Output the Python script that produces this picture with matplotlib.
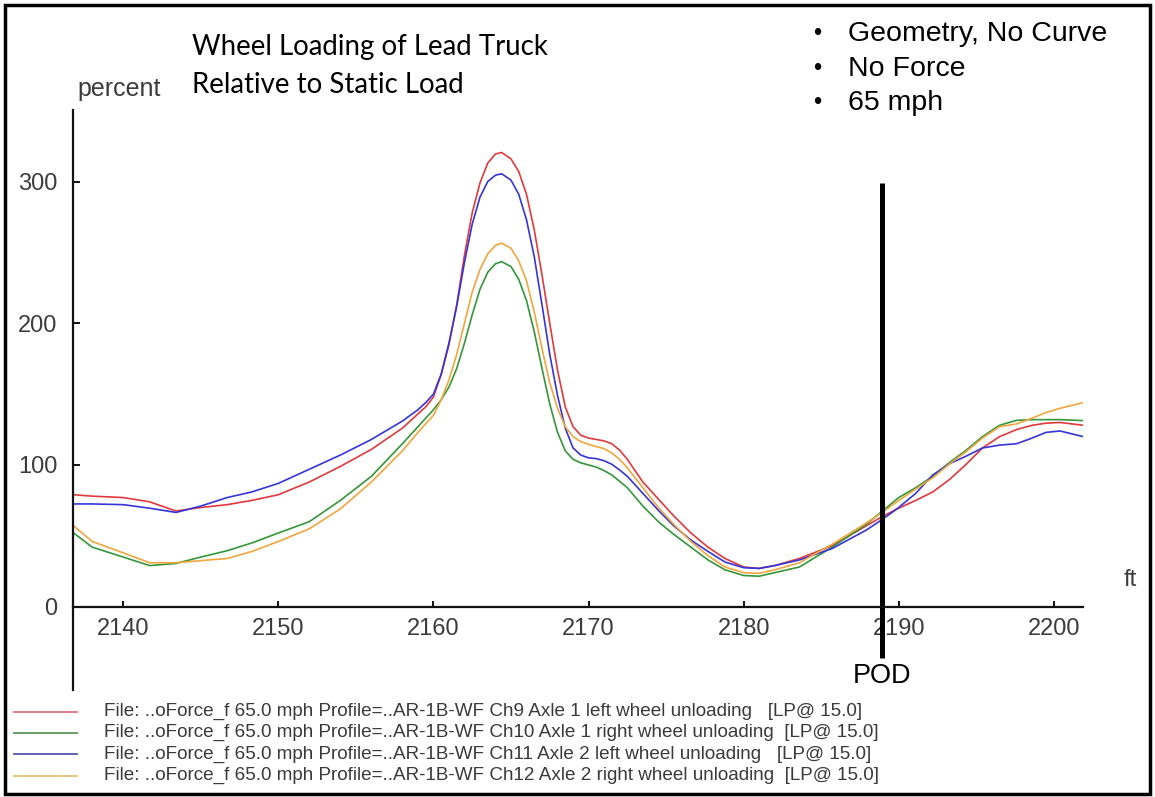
import matplotlib
matplotlib.use("Agg")
import matplotlib.pyplot as plt
from matplotlib.lines import Line2D
from matplotlib.patches import Rectangle

# ---- data ----
distance_ft = [2136.8, 2138, 2140, 2141.7, 2143.4, 2145, 2146.7, 2148.3, 2150, 2152,
               2154, 2156, 2158,
               2159, 2159.5, 2160, 2160.5, 2161, 2161.5, 2162, 2162.5, 2163, 2163.5,
               2164, 2164.4, 2165, 2165.5, 2166, 2166.5, 2167, 2167.5, 2168, 2168.5,
               2169, 2169.5, 2170, 2170.5, 2171, 2171.5, 2172, 2172.5,
               2173.5, 2174.5, 2175.5, 2176.6, 2177.7, 2178.8, 2180, 2181, 2182, 2183.6,
               2185.7, 2187.9, 2189, 2190, 2191.1, 2192.2, 2193.3, 2194.3, 2195.4, 2196.5,
               2197.6, 2198.6, 2199.5, 2200.4, 2201.9]

ch9_axle1_left = [79, 78, 77, 74, 67.5, 70, 72, 75, 79, 88,
                  99, 111, 126,
                  136, 141, 148, 164, 185, 213, 248, 278, 299, 313,
                  319.5, 320.5, 316, 307, 291, 266, 234, 200, 167, 141,
                  127, 121, 119, 118, 117, 115, 110.5, 104,
                  88, 76, 64, 52, 42, 34, 28, 27, 29, 34,
                  43, 57, 64, 69.5, 75, 81, 90, 100, 112, 120,
                  125, 128, 129.5, 130, 128]

ch10_axle1_right = [52, 42, 35, 29, 30.5, 35, 39.5, 45, 52, 60,
                    75, 92, 115,
                    127, 133, 139, 146, 155, 168, 186, 206, 224, 236,
                    242, 243.5, 240, 231, 216, 194, 168, 143, 123, 110,
                    104, 101.5, 100, 98.5, 96, 93, 88.5, 84,
                    71, 60, 51, 42, 33, 26, 22, 21.5, 24, 28,
                    42, 58, 68, 77, 84, 92, 102, 110, 120, 128,
                    131.5, 132, 132, 132, 131.3]

ch11_axle2_left = [72.5, 72.5, 72, 69.5, 66.5, 71, 77, 81, 87, 97,
                   107, 118, 131,
                   139, 144, 150, 164, 186, 212, 243, 270, 289, 300,
                   304.5, 305.5, 301, 291, 273, 247, 213, 178, 149, 126,
                   112, 107, 105, 104.5, 103, 100.5, 96.5, 92,
                   80, 68, 57, 47, 39, 31.5, 27.5, 27, 29, 33,
                   41, 54, 62, 70, 80, 93, 101, 106, 112, 114,
                   115, 119, 123, 124, 120]

ch12_axle2_right = [57, 46, 38, 31, 31, 32.5, 34, 39, 46, 55,
                    69, 88, 110,
                    123, 129, 135, 146, 160, 178, 200, 222, 238, 249,
                    255, 256.5, 253, 244, 230, 208, 182, 158, 140, 127,
                    120, 116.5, 114.5, 113, 111.5, 108.5, 104, 98,
                    84, 70, 58, 46, 36, 28, 24, 23.5, 26, 31,
                    44, 59, 67, 75, 83, 91, 101, 109, 119, 127,
                    129, 133, 137, 140, 144]

series_labels = [
    "File: ..oForce_f 65.0 mph Profile=..AR-1B-WF Ch9 Axle 1 left wheel unloading   [LP@ 15.0]",
    "File: ..oForce_f 65.0 mph Profile=..AR-1B-WF Ch10 Axle 1 right wheel unloading  [LP@ 15.0]",
    "File: ..oForce_f 65.0 mph Profile=..AR-1B-WF Ch11 Axle 2 left wheel unloading   [LP@ 15.0]",
    "File: ..oForce_f 65.0 mph Profile=..AR-1B-WF Ch12 Axle 2 right wheel unloading  [LP@ 15.0]",
]
series_colors = ["#e3383c", "#34963a", "#3434dc", "#f0a63c"]
legend_colors = ["#dc7080", "#5c9a5c", "#5058b0", "#e6c070"]

x_ticks = [2140, 2150, 2160, 2170, 2180, 2190, 2200]
y_ticks = [0, 100, 200, 300]
pod_ft = 2188.94
bullets = ["Geometry, No Curve", "No Force", "65 mph"]

# ---- figure ----
W, H = 1155, 797
fig = plt.figure(figsize=(W / 100, H / 100), dpi=100)
fig.patch.set_facecolor("white")

def fx(px):
    return px / W

def fy(py):
    return 1 - py / H

ax_left, ax_right, ax_top, ax_bottom = 73, 1083.3, 110, 690
ax = fig.add_axes([fx(ax_left), fy(ax_bottom), (ax_right - ax_left) / W, (ax_bottom - ax_top) / H])
ax.set_facecolor("none")
ax.set_xlim(2136.76, 2201.9)
ax.set_ylim(-58.8, 350.5)

tick_font = dict(family=["Liberation Sans", "DejaVu Sans"], size=17, color="#3c3c3c")

for vals, col in zip([ch9_axle1_left, ch10_axle1_right, ch11_axle2_left, ch12_axle2_right], series_colors):
    ax.plot(distance_ft, vals, color=col, lw=1.2, solid_joinstyle="round")

for s in ["top", "right"]:
    ax.spines[s].set_visible(False)
ax.spines["bottom"].set_position(("data", 0))
ax.spines["bottom"].set_linewidth(1.6)
ax.spines["left"].set_linewidth(1.6)
ax.spines["bottom"].set_color("#111111")
ax.spines["left"].set_color("#111111")

ax.set_xticks(x_ticks)
ax.set_xticklabels([str(t) for t in x_ticks], fontdict=tick_font)
ax.set_yticks(y_ticks)
ax.set_yticklabels([str(t) for t in y_ticks], fontdict=tick_font)
ax.tick_params(axis="x", direction="in", length=4.2, width=1.4, pad=8.5, color="#111111")
ax.tick_params(axis="y", direction="in", length=5, width=1.4, pad=11, color="#111111")

# POD marker line
ax.plot([pod_ft, pod_ft], [299.0, -36.2], color="black", lw=3.6, solid_capstyle="butt", clip_on=False)
ax.text(pod_ft, -49, "POD", ha="center", va="center", fontsize=19.5,
        family=["Liberation Sans", "DejaVu Sans"], color="black", clip_on=False)

# axis unit labels
ax.text(2204.9, 18.8, "ft", ha="center", va="center", clip_on=False, **tick_font)
fig.text(fx(119), fy(89), "percent", ha="center", va="center",
         family=["Liberation Sans", "DejaVu Sans"], size=18, color="#3c3c3c")

# title
title_font = dict(family=["Lato", "DejaVu Sans"], size=19.9, color="black")
fig.text(fx(192), fy(47), "Wheel Loading of Lead Truck", ha="left", va="center", **title_font)
fig.text(fx(192), fy(85), "Relative to Static Load", ha="left", va="center", **title_font)

# bullet notes
for i, b in enumerate(bullets):
    yy = 34 + i * 34.5
    fig.text(fx(817), fy(yy), "\u2022", ha="center", va="center", fontsize=17,
             family=["Liberation Sans", "DejaVu Sans"], color="black")
    fig.text(fx(848), fy(yy), b, ha="left", va="center", fontsize=20.5,
             family=["Liberation Sans", "DejaVu Sans"], color="black")

# legend (drawn below the plot)
for i, (lab, col) in enumerate(zip(series_labels, legend_colors)):
    yy = 711.5 + i * 21.4
    fig.add_artist(Line2D([fx(14), fx(77)], [fy(yy), fy(yy)], color=col, lw=1.3))
    fig.text(fx(104), fy(yy), lab, ha="left", va="center", fontsize=13.6,
             family=["Liberation Sans", "DejaVu Sans"], color="#3a3a3a")

# outer frame
fig.add_artist(Rectangle((fx(5), fy(794)), (1150 - 5) / W, (794 - 5) / H, transform=fig.transFigure,
                         fill=False, edgecolor="black", lw=2.5))

fig.savefig("out.png", dpi=100)
